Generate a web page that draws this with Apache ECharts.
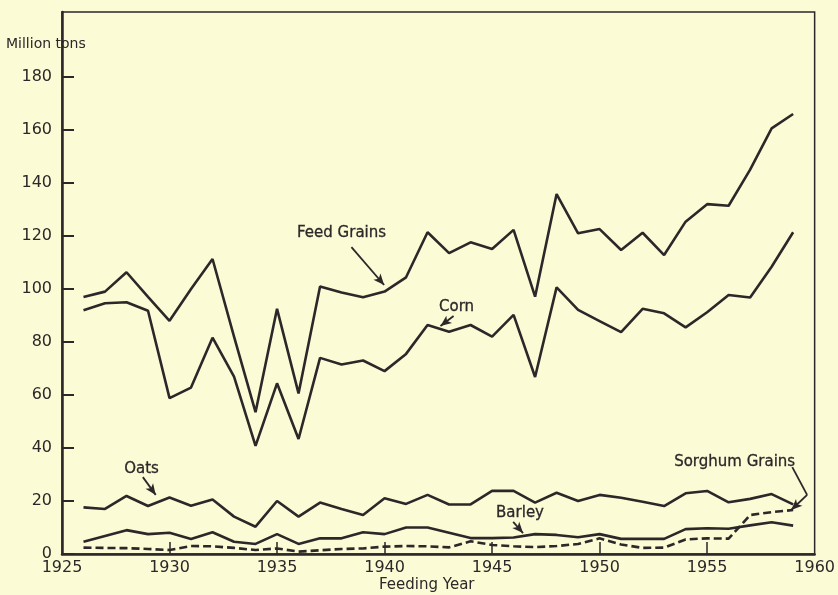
<!DOCTYPE html>
<html>
<head>
<meta charset="utf-8">
<script src="https://cdn.jsdelivr.net/npm/echarts@6/dist/echarts.min.js"></script>
<style>
  html, body { margin: 0; padding: 0; background: #fbfbd5; }
  #main { width: 838px; height: 595px; }
</style>
</head>
<body>
<div id="main"></div>
<script>
// feeding years 1926-1959, million tons
var years = [1926,1927,1928,1929,1930,1931,1932,1933,1934,1935,1936,1937,1938,1939,1940,1941,1942,
             1943,1944,1945,1946,1947,1948,1949,1950,1951,1952,1953,1954,1955,1956,1957,1958,1959];
var feedGrains = [97,99,106.3,97,88,100,111.3,82,53.5,92.5,60.6,100.9,98.7,96.9,99,104.4,121.4,
                  113.5,117.6,115.1,122.3,97.1,135.8,121,122.6,114.7,121.2,112.8,125.4,132,131.4,145,160.6,166];
var corn = [92,94.6,95,91.8,58.8,62.8,81.6,66.9,40.8,64.4,43.4,74,71.5,73,69,75.5,86.4,
            83.9,86.4,82,90.2,66.8,100.6,92.1,87.9,83.7,92.5,90.8,85.5,91.2,97.7,96.8,108.4,121.4];
var oats = [17.6,17,21.9,18.1,21.3,18.2,20.6,14.1,10.3,20,14.1,19.4,17,14.7,21,18.9,22.3,
            18.7,18.7,23.8,23.8,19.4,23.1,20,22.3,21.2,19.7,18.1,22.9,23.8,19.5,20.8,22.6,18.7];
var barley = [4.6,6.8,9,7.5,8,5.7,8.2,4.6,3.8,7.5,3.8,5.9,5.9,8.2,7.5,10,10,
              8,6,6,6.2,7.5,7.2,6.3,7.5,5.7,5.7,5.7,9.4,9.7,9.5,10.8,12,10.7];
var sorghum = [2.4,2.3,2.2,1.9,1.5,3.0,2.9,2.3,1.5,2.1,0.9,1.4,1.9,2.1,2.8,3.0,2.9,
               2.5,4.8,3.4,2.9,2.6,3.0,3.8,5.9,3.6,2.3,2.4,5.5,5.9,5.8,14.7,15.8,16.6];
var yTicks = [0,20,40,60,80,100,120,140,160,180];
var xTicks = [1925,1930,1935,1940,1945,1950,1955,1960];

var ink = '#2e2629';
var font = 'DejaVu Sans';

function pairs(vals) {
    return years.map(function (y, i) { return [y, vals[i]]; });
}

// label text + arrow, both in data coords
function note(text, at, path) {
    var segs = [];
    for (var i = 0; i < path.length - 1; i++) {
        var last = i === path.length - 2;
        segs.push([
            { coord: path[i], symbol: 'none' },
            { coord: path[i + 1], symbol: last ? 'arrow' : 'none', symbolSize: last ? [7, 11] : 0 }
        ]);
    }
    return {
        markPoint: {
            symbol: 'circle', symbolSize: 0, silent: true,
            label: { show: true, position: 'inside', formatter: text, color: ink,
                     fontFamily: font, fontSize: 15, textBorderColor: ink, textBorderWidth: 0.3 },
            data: [{ coord: at }]
        },
        markLine: {
            silent: true, animation: false,
            lineStyle: { color: ink, width: 1.8, type: 'solid' },
            label: { show: false },
            data: segs
        }
    };
}

function line(name, vals, extra, dashed) {
    var s = {
        name: name, type: 'line', data: pairs(vals),
        showSymbol: false, animation: false,
        lineStyle: { color: ink, width: 2.6, type: dashed ? [8, 4] : 'solid' }
    };
    return Object.assign(s, extra);
}

var myChart = echarts.init(document.getElementById('main'));
var option = {
    backgroundColor: '#fbfbd5',
    grid: {
        left: 62, right: 18, top: 12, bottom: 41,
        show: true, borderColor: ink, borderWidth: 1.5
    },
    xAxis: {
        type: 'value', min: 1925, max: 1960, interval: 5,
        axisLine: { lineStyle: { color: ink, width: 2.5 } },
        axisTick: { inside: true, length: 12, customValues: [1930,1935,1940,1945,1950,1955],
                    lineStyle: { color: ink, width: 1.5 } },
        axisLabel: { color: ink, fontFamily: font, fontSize: 16, margin: 6, customValues: xTicks,
                     formatter: function (v) { return String(v); } },
        splitLine: { show: false }
    },
    yAxis: {
        type: 'value', min: 0, max: 204.5,
        axisLine: { show: true, lineStyle: { color: ink, width: 2.5 } },
        axisTick: { show: true, inside: true, length: 12, customValues: yTicks,
                    lineStyle: { color: ink, width: 2 } },
        axisLabel: { color: ink, fontFamily: font, fontSize: 16, margin: 10, customValues: yTicks },
        splitLine: { show: false }
    },
    graphic: [
        { type: 'text', left: 6, top: 37,
          style: { text: 'Million tons', fill: ink, font: '14px "DejaVu Sans"' } },
        { type: 'text', left: 379, top: 578,
          style: { text: 'Feeding Year', fill: ink, font: '15px "DejaVu Sans"' } }
    ],
    series: [
        line('Feed Grains', feedGrains,
             note('Feed Grains', [1938.0, 121.1], [[1938.46, 115.8], [1939.98, 101.5]])),
        line('Corn', corn,
             note('Corn', [1943.35, 93.2], [[1943.21, 89.8], [1942.6, 86]])),
        line('Oats', oats,
             note('Oats', [1928.7, 32], [[1928.76, 29], [1929.36, 22.3]])),
        line('Barley', barley,
             note('Barley', [1946.3, 15.5], [[1945.98, 12.1], [1946.44, 7.9]])),
        line('Sorghum Grains', sorghum,
             note('Sorghum Grains', [1956.28, 34.7], [[1958.96, 32.8], [1959.65, 22.3], [1958.91, 16.6]]),
             true)
    ]
};
myChart.setOption(option);
</script>
</body>
</html>
